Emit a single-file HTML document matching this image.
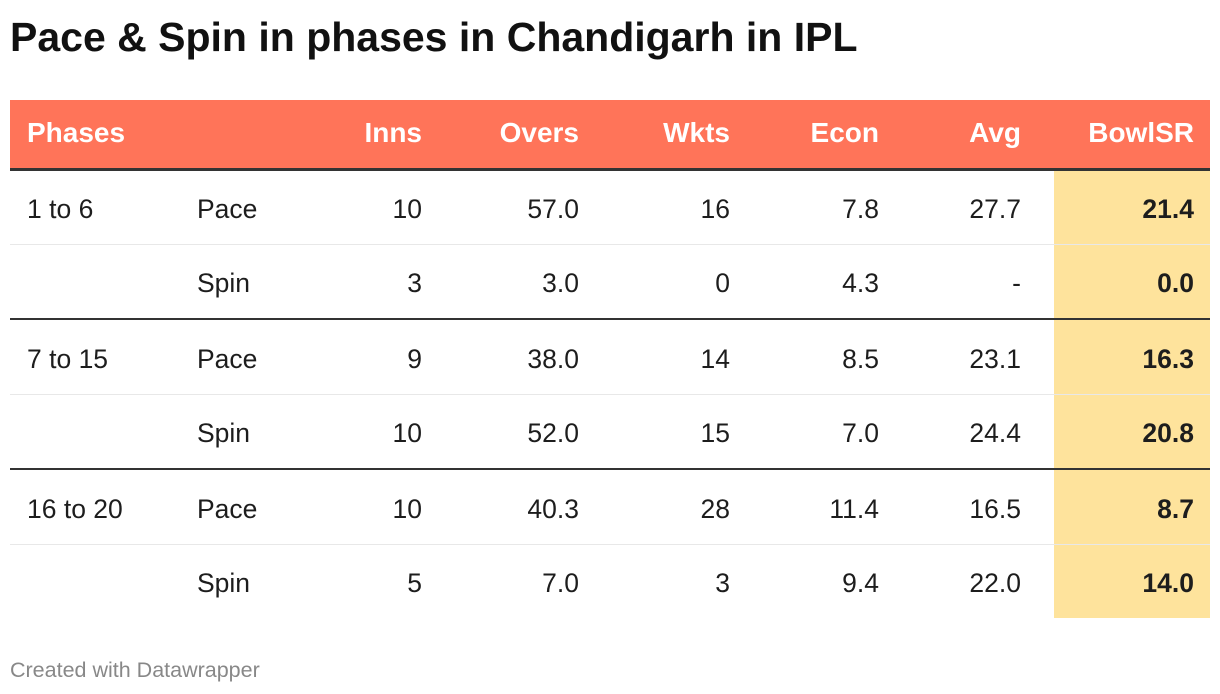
<!DOCTYPE html>
<html><head><meta charset="utf-8"><style>
body{margin:0;width:1220px;height:694px;background:#fff;font-family:"Liberation Sans",Arial,sans-serif;position:relative;overflow:hidden;color:#1d1d1d}
.a{position:absolute}
.t{position:absolute;font-size:26.5px;line-height:30px;white-space:nowrap}
.r{text-align:right}
.h{color:#fff;font-weight:bold;font-size:28px}
.b{font-weight:bold}
</style></head><body>
<div class="a" style="left:10px;top:13px;font-size:41px;font-weight:bold;color:#111;line-height:48px">Pace &amp; Spin in phases in Chandigarh in IPL</div>
<div class="a" style="left:10px;top:100px;width:1200px;height:68px;background:#ff7459"></div>
<div class="a" style="left:10px;top:168px;width:1200px;height:3px;background:#333"></div>
<div class="a" style="left:1054px;top:171px;width:156px;height:447px;background:#fee39c"></div>
<div class="a" style="left:10px;top:244px;width:1200px;height:1px;background:#e8e8e8"></div>
<div class="a" style="left:10px;top:318px;width:1200px;height:2px;background:#333"></div>
<div class="a" style="left:10px;top:394px;width:1200px;height:1px;background:#e8e8e8"></div>
<div class="a" style="left:10px;top:468px;width:1200px;height:2px;background:#333"></div>
<div class="a" style="left:10px;top:544px;width:1200px;height:1px;background:#e8e8e8"></div>
<div id="c"></div>
<div class="a" style="left:10px;top:658px;font-size:21.5px;color:#888;line-height:24px">Created with Datawrapper</div>
<script>
var rights=[422,579,730,879,1021,1194];
var head=["Inns","Overs","Wkts","Econ","Avg","BowlSR"];
var rows=[["1 to 6","Pace","10","57.0","16","7.8","27.7","21.4"],
["","Spin","3","3.0","0","4.3","-","0.0"],
["7 to 15","Pace","9","38.0","14","8.5","23.1","16.3"],
["","Spin","10","52.0","15","7.0","24.4","20.8"],
["16 to 20","Pace","10","40.3","28","11.4","16.5","8.7"],
["","Spin","5","7.0","3","9.4","22.0","14.0"]];
var ys=[208,282,358,432,508,582];
var h='<div class="t h" style="left:27px;top:118px">Phases</div>';
head.forEach(function(s,i){h+='<div class="t h r" style="left:'+(rights[i]-200)+'px;width:200px;top:118px">'+s+'</div>';});
rows.forEach(function(r,j){var y=ys[j]-14;
h+='<div class="t" style="left:27px;top:'+y+'px">'+r[0]+'</div>';
h+='<div class="t" style="left:197px;top:'+y+'px">'+r[1]+'</div>';
for(var i=0;i<6;i++)h+='<div class="t r'+(i==5?' b':'')+'" style="left:'+(rights[i]-200)+'px;width:200px;top:'+y+'px">'+r[i+2]+'</div>';});
document.getElementById('c').innerHTML=h;
</script>
</body></html>
